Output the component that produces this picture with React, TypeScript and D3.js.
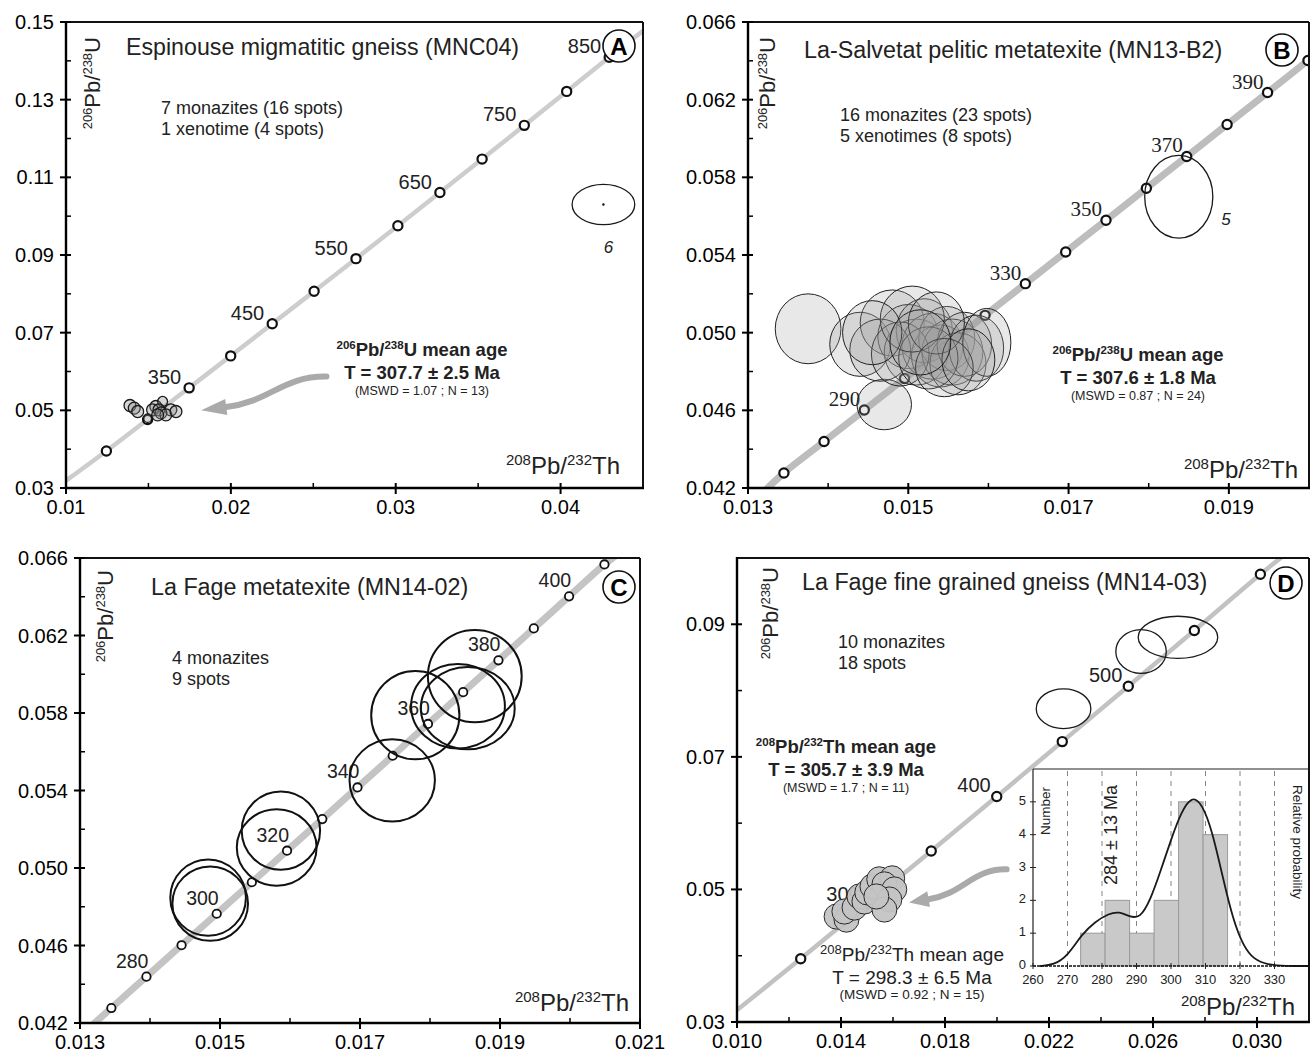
import React from 'react';
import * as d3 from 'd3';

const SANS = "'Liberation Sans', Arial, Helvetica, sans-serif";
const SERIF = "'Liberation Serif', 'Times New Roman', serif";

// ---- concordia ticks: age (Ma), 208Pb/232Th, 206Pb/238U ----
const agesA = [250, 300, 350, 400, 450, 500, 550, 600, 650, 700, 750, 800, 850];
const thA = [0.01245, 0.01495, 0.01747, 0.01999, 0.02251, 0.02505, 0.02759, 0.03013, 0.03268, 0.03524, 0.0378, 0.04037, 0.04295];
const uA = [0.03954, 0.04764, 0.05579, 0.06402, 0.0723, 0.08065, 0.08906, 0.09754, 0.10609, 0.1147, 0.12338, 0.13213, 0.14094];
const labelsA = [350, 450, 550, 650, 750, 850];
const endsA = [[0.01, 0.0319], [0.0452, 0.1484]];

const agesB = [270, 280, 290, 300, 310, 320, 330, 340, 350, 360, 370, 380, 390, 400];
const thB = [0.013448, 0.013949, 0.014451, 0.014953, 0.015455, 0.015958, 0.016461, 0.016964, 0.017467, 0.017971, 0.018474, 0.018978, 0.019483, 0.019987];
const uB = [0.042773, 0.044392, 0.046014, 0.047638, 0.049264, 0.050893, 0.052524, 0.054158, 0.055793, 0.057434, 0.059075, 0.060719, 0.062366, 0.06402];
const labelsB = [290, 330, 350, 370, 390];
const endsB = [[0.01322, 0.0419], [0.0203, 0.0651]];

const agesC = [270, 280, 290, 300, 310, 320, 330, 340, 350, 360, 370, 380, 390, 400, 410];
const thC = [...thB, 0.020492];
const uC = [...uB, 0.065667];
const labelsC = [280, 300, 320, 340, 360, 380, 400];
const endsC = [[0.01318, 0.0419], [0.0208, 0.0665]];

const agesD = [250, 300, 350, 400, 450, 500, 550, 600];
const thD = [0.01245, 0.01495, 0.01747, 0.01999, 0.02251, 0.02505, 0.02759, 0.03013];
const uD = [0.03954, 0.04764, 0.05579, 0.06402, 0.0723, 0.08065, 0.08906, 0.09754];
const labelsD = [300, 400, 500];
const endsD = [[0.01, 0.0318], [0.0311, 0.1006]];

// ---- axis ticks ----
const xTicksA = [0.01, 0.02, 0.03, 0.04];
const xMinorA = [0.015, 0.025, 0.035];
const yTicksA = [0.03, 0.05, 0.07, 0.09, 0.11, 0.13, 0.15];
const yMinorA = [0.04, 0.06, 0.08, 0.1, 0.12, 0.14];
const xTicksB = [0.013, 0.015, 0.017, 0.019];
const xMinorB = [0.014, 0.016, 0.018];
const yTicksB = [0.042, 0.046, 0.05, 0.054, 0.058, 0.062, 0.066];
const yMinorB = [0.044, 0.048, 0.052, 0.056, 0.06, 0.064];
const xTicksC = [0.013, 0.015, 0.017, 0.019, 0.021];
const xMinorC = [0.014, 0.016, 0.018, 0.02];
const xTicksD = [0.01, 0.014, 0.018, 0.022, 0.026, 0.03];
const xMinorD = [0.012, 0.016, 0.02, 0.024, 0.028];
const yTicksD = [0.03, 0.05, 0.07, 0.09];
const yMinorD = [0.04, 0.06, 0.08];

// ---- analyses: [208Pb/232Th, 206Pb/238U, half-axis x, half-axis y] ----
const spotsA = [
  [0.01388, 0.05124, 0.00036, 0.00155], [0.01414, 0.05057, 0.00036, 0.00155],
  [0.01435, 0.04969, 0.00036, 0.00155], [0.01545, 0.05098, 0.00036, 0.00155],
  [0.01586, 0.05227, 0.0003, 0.0013], [0.01525, 0.05013, 0.00036, 0.00155],
  [0.01564, 0.05013, 0.00036, 0.00155], [0.01636, 0.05013, 0.00036, 0.00155],
  [0.01576, 0.04935, 0.00036, 0.00155], [0.01606, 0.04884, 0.00036, 0.00155],
  [0.01667, 0.04969, 0.00036, 0.00155], [0.01556, 0.04884, 0.00036, 0.00155],
  [0.01495, 0.04799, 0.00024, 0.0011],
];
const openA = [[0.0426, 0.103, 0.0019, 0.0052]];

const spotsB = [
  [0.01375, 0.0502, 0.00041, 0.0018], [0.0147, 0.0463, 0.00034, 0.0013],
  [0.0144, 0.0494, 0.00038, 0.00165], [0.0148, 0.0505, 0.0004, 0.0017],
  [0.015, 0.0498, 0.00038, 0.00165], [0.0151, 0.049, 0.0004, 0.0017],
  [0.0152, 0.0501, 0.00035, 0.00165], [0.0153, 0.0493, 0.00038, 0.0017],
  [0.0154, 0.0488, 0.00036, 0.0016], [0.01548, 0.0497, 0.00035, 0.00165],
  [0.01555, 0.049, 0.00038, 0.0017], [0.01562, 0.0484, 0.00035, 0.0016],
  [0.0157, 0.0494, 0.00034, 0.00165], [0.01585, 0.0492, 0.00034, 0.0017],
  [0.01598, 0.0495, 0.0003, 0.00175], [0.01465, 0.0491, 0.00038, 0.0016],
  [0.0149, 0.0489, 0.00036, 0.00165], [0.01525, 0.0487, 0.00037, 0.0016],
  [0.01505, 0.0507, 0.0004, 0.0017], [0.01535, 0.0505, 0.00035, 0.0016],
  [0.01455, 0.05, 0.00037, 0.00165], [0.01545, 0.0482, 0.00036, 0.0015],
  [0.01575, 0.0486, 0.00033, 0.0016], [0.01515, 0.0495, 0.00038, 0.00168],
];
const openB = [[0.018375, 0.057, 0.000425, 0.00213]];

const openC = [
  [0.01864, 0.0599, 0.00067, 0.00238], [0.0184, 0.05835, 0.00067, 0.00218],
  [0.01854, 0.05825, 0.00067, 0.00212], [0.01779, 0.05789, 0.00063, 0.00228],
  [0.01746, 0.05452, 0.00061, 0.00212], [0.01587, 0.05193, 0.00056, 0.00202],
  [0.01581, 0.05106, 0.00057, 0.00197], [0.01483, 0.04847, 0.00054, 0.00197],
  [0.01486, 0.04816, 0.00054, 0.00192],
];

const openD = [
  [0.02696, 0.08803, 0.00153, 0.00318], [0.02554, 0.0859, 0.00097, 0.0033],
  [0.02256, 0.07727, 0.00105, 0.003],
];
const spotsD = [
  [0.01383, 0.04591, 0.00048, 0.0019], [0.01421, 0.04545, 0.00048, 0.0019],
  [0.01413, 0.04667, 0.00048, 0.0019], [0.01452, 0.04727, 0.00048, 0.0019],
  [0.01471, 0.04894, 0.00048, 0.0019], [0.0149, 0.04818, 0.00048, 0.0019],
  [0.01501, 0.04955, 0.00048, 0.0019], [0.01521, 0.05045, 0.00048, 0.0019],
  [0.01547, 0.05152, 0.00048, 0.0019], [0.01597, 0.05167, 0.00048, 0.0019],
  [0.01567, 0.05076, 0.00048, 0.0019], [0.01605, 0.05, 0.00048, 0.0019],
  [0.01586, 0.04848, 0.00048, 0.0019], [0.01567, 0.04697, 0.00048, 0.0019],
  [0.01536, 0.04894, 0.00048, 0.0019],
];

// ---- inset histogram (panel D) ----
const binEdges = [273.8, 280.9, 288.0, 295.1, 302.2, 309.3, 316.4];
const binCounts = [1, 2, 1, 2, 5, 4];
const probAges = [262, 266, 270, 274, 278, 282, 285, 288, 291, 294, 297, 300, 303, 306, 309, 312, 315, 318, 321, 324, 328, 333, 340];
const probVals = [0, 0.03, 0.3, 0.95, 1.35, 1.6, 1.66, 1.5, 1.45, 2.0, 2.9, 3.85, 4.7, 5.18, 4.95, 4.1, 2.7, 1.4, 0.6, 0.2, 0.04, 0, 0];
const histXTicks = [260, 270, 280, 290, 300, 310, 320, 330];
const histYTicks = [0, 1, 2, 3, 4, 5];

type Part = [string, boolean];
const PBU: Part[] = [['206', true], ['Pb', false], ['/', false], ['238', true], ['U', false]];
const PBTH: Part[] = [['208', true], ['Pb', false], ['/', false], ['232', true], ['Th', false]];

function rich(parts: Part[], size: number, supSize: number) {
  let up = false;
  return parts.map(([s, isSup], i) => {
    let dy: number | undefined;
    if (isSup && !up) { dy = -size * 0.38; up = true; }
    else if (!isSup && up) { dy = size * 0.38; up = false; }
    return <tspan key={i} dy={dy} fontSize={isSup ? supSize : size}>{s}</tspan>;
  });
}

function Panel({ cfg }: { cfg: any }) {
  const b = cfg.box;
  const x = d3.scaleLinear().domain(cfg.xDom).range([b.l, b.r]);
  const y = d3.scaleLinear().domain(cfg.yDom).range([b.b, b.t]);
  const pts = [cfg.ends[0], ...cfg.th.map((t: number, i: number) => [t, cfg.u[i]]), cfg.ends[1]];
  const line = d3.line<number[]>().x(d => x(d[0])).y(d => y(d[1])).curve(d3.curveCatmullRom);
  const ell = (e: number[], i: number, style: any) => (
    <ellipse key={i} cx={x(e[0])} cy={y(e[1])}
      rx={Math.abs(x(e[0] + e[2]) - x(e[0]))} ry={Math.abs(y(e[1] + e[3]) - y(e[1]))} {...style} />
  );
  const clip = 'clip' + cfg.id;
  return (
    <g>
      <defs>
        <clipPath id={clip}><rect x={b.l} y={b.t} width={b.r - b.l} height={b.b - b.t} /></clipPath>
      </defs>
      <g clipPath={`url(#${clip})`}>
        <path d={line(pts) || ''} fill="none" stroke={cfg.lineColor} strokeWidth={cfg.lineW} />
        {cfg.th.map((t: number, i: number) => (
          <circle key={i} cx={x(t)} cy={y(cfg.u[i])} r={cfg.markR} fill="#fff" stroke="#111" strokeWidth={cfg.markW} />
        ))}
      </g>
      {cfg.ages.map((a: number, i: number) => cfg.labels.includes(a) ? (
        <text key={i} x={x(cfg.th[i]) + cfg.lab.dx} y={y(cfg.u[i]) + cfg.lab.dy} textAnchor="end"
          fontFamily={cfg.lab.font} fontSize={cfg.lab.size} fill="#222">{a}</text>
      ) : null)}
      <g clipPath={`url(#${clip})`}>
        {cfg.spots.map((e: number[], i: number) => ell(e, i, cfg.spotStyle))}
        {cfg.open.map((e: number[], i: number) => ell(e, i, cfg.openStyle))}
      </g>
      {cfg.extra ? cfg.extra(x, y) : null}
      {/* frame and axes */}
      <line x1={b.l} x2={b.r} y1={b.t} y2={b.t} stroke="#111" strokeWidth={2} />
      <line x1={b.r} x2={b.r} y1={b.t} y2={b.b} stroke="#111" strokeWidth={2} />
      <line x1={b.l} x2={b.r + 1} y1={b.b} y2={b.b} stroke="#000" strokeWidth={2.4} />
      <line x1={b.l} x2={b.l} y1={b.t - 1} y2={b.b} stroke="#000" strokeWidth={2.4} />
      {cfg.xTicks.map((v: number, i: number) => (
        <g key={'xt' + i}>
          <line x1={x(v)} x2={x(v)} y1={b.b - 5} y2={b.b + 6} stroke="#000" strokeWidth={2} />
          <text x={x(v)} y={b.b + 26} textAnchor="middle" fontFamily={SANS} fontSize={20}>{cfg.xFmt(v)}</text>
        </g>
      ))}
      {cfg.xMinor.map((v: number, i: number) => (
        <line key={'xm' + i} x1={x(v)} x2={x(v)} y1={b.b - 5} y2={b.b} stroke="#000" strokeWidth={1.5} />
      ))}
      {cfg.yTicks.map((v: number, i: number) => (
        <g key={'yt' + i}>
          <line x1={b.l - 6} x2={b.l + 5} y1={y(v)} y2={y(v)} stroke="#000" strokeWidth={2} />
          <text x={b.l - 12} y={y(v) + 7} textAnchor="end" fontFamily={SANS} fontSize={20}>{cfg.yFmt(v)}</text>
        </g>
      ))}
      {cfg.yMinor.map((v: number, i: number) => (
        <line key={'ym' + i} x1={b.l} x2={b.l + 5} y1={y(v)} y2={y(v)} stroke="#000" strokeWidth={1.5} />
      ))}
      {/* axis titles */}
      <text transform={`translate(${cfg.yLab[0]},${cfg.yLab[1]}) rotate(-90)`} textAnchor="end"
        fontFamily={SANS} fill="#222">{rich(PBU, 22, 13)}</text>
      <text x={cfg.xLab[0]} y={cfg.xLab[1]} textAnchor="end" fontFamily={SANS} fill="#222">{rich(PBTH, 24, 15)}</text>
      <text x={cfg.title[0]} y={cfg.title[1]} fontFamily={SANS} fontSize={cfg.titleSize} fill="#222">{cfg.titleText}</text>
      {cfg.stats.map((s: string, i: number) => (
        <text key={'st' + i} x={cfg.statPos[0]} y={cfg.statPos[1] + i * 21} fontFamily={SANS} fontSize={18} fill="#222">{s}</text>
      ))}
      <circle cx={cfg.letter[0]} cy={cfg.letter[1]} r={16} fill="#fff" stroke="#111" strokeWidth={1.6} />
      <text x={cfg.letter[0]} y={cfg.letter[1] + 8.5} textAnchor="middle" fontFamily={SANS} fontWeight="bold" fontSize={24}>{cfg.id}</text>
    </g>
  );
}

function MeanAge({ cx, y0, ratio, age, mswd, bold }: any) {
  const w = bold ? 'bold' : 'normal';
  return (
    <g fontFamily={SANS} fill="#222" textAnchor="middle">
      <text x={cx} y={y0} fontWeight={w}>{rich(ratio, bold ? 18.5 : 19, bold ? 11.5 : 13)}<tspan fontSize={bold ? 18.5 : 19}> mean age</tspan></text>
      <text x={cx} y={y0 + 23} fontWeight={w} fontSize={bold ? 18.5 : 19}>{age}</text>
      <text x={cx} y={y0 + (bold ? 39 : 38)} fontSize={bold ? 12.5 : 13.5}>{mswd}</text>
    </g>
  );
}

function Arrow({ tail, tip }: { tail: number[]; tip: number[] }) {
  const w = tail[0] - tip[0];
  const h = tip[1] - tail[1];
  const e = [tip[0] + 0.2 * w, tip[1] - 0.1 * h];
  const body = `M${tail[0]},${tail[1]} C${tail[0] - 0.35 * w},${tail[1] - 0.02 * h} ${tail[0] - 0.45 * w},${tip[1] - 0.25 * h} ${e[0]},${e[1]}`;
  const dx = tip[0] - e[0], dy = tip[1] - e[1];
  const L = Math.hypot(dx, dy);
  const nx = -dy / L, ny = dx / L;
  const hw = 8;
  const head = `M${tip[0]},${tip[1]} L${e[0] + nx * hw},${e[1] + ny * hw} L${e[0] - nx * hw},${e[1] - ny * hw} Z`;
  return (
    <g>
      <path d={body} fill="none" stroke="#aaa" strokeWidth={6} strokeLinecap="round" />
      <path d={head} fill="#aaa" />
    </g>
  );
}

function Inset() {
  const l = 1033, r = 1309, t = 769, b = 966;
  const x = d3.scaleLinear().domain([260, 340]).range([l, r]);
  const y = d3.scaleLinear().domain([0, 6]).range([b, t]);
  const curve = d3.line<number>().x((d, i) => x(probAges[i])).y(d => y(d)).curve(d3.curveBasis);
  return (
    <g>
      <rect x={l} y={t} width={r - l} height={b - t} fill="#fff" />
      {histXTicks.slice(1).map((v, i) => (
        <line key={'g' + i} x1={x(v)} x2={x(v)} y1={t + 2} y2={b} stroke="#777" strokeWidth={0.9} strokeDasharray="5,5" />
      ))}
      {binCounts.map((c, i) => (
        <rect key={'bar' + i} x={x(binEdges[i])} y={y(c)} width={x(binEdges[i + 1]) - x(binEdges[i])}
          height={y(0) - y(c)} fill="#c9c9c9" stroke="#9a9a9a" strokeWidth={1} />
      ))}
      <path d={curve(probVals) || ''} fill="none" stroke="#1a1a1a" strokeWidth={1.8} />
      <line x1={l} x2={r} y1={t} y2={t} stroke="#222" strokeWidth={1.2} />
      <line x1={l} x2={l} y1={t} y2={b} stroke="#222" strokeWidth={1.2} />
      <line x1={l} x2={r} y1={b} y2={b} stroke="#111" strokeWidth={1.6} strokeDasharray="3,1" />
      {histYTicks.map(v => (
        <g key={'hy' + v}>
          <line x1={l - 3} x2={l + 3} y1={y(v)} y2={y(v)} stroke="#222" strokeWidth={1} />
          <text x={l - 7} y={y(v) + 3} textAnchor="end" fontFamily={SANS} fontSize={13} fill="#222">{v}</text>
        </g>
      ))}
      {histXTicks.map(v => (
        <g key={'hx' + v}>
          <line x1={x(v)} x2={x(v)} y1={b - 3} y2={b + 3} stroke="#222" strokeWidth={1} />
          <text x={x(v)} y={b + 18} textAnchor="middle" fontFamily={SANS} fontSize={13} fill="#222">{v}</text>
        </g>
      ))}
      <text transform={`translate(${l + 17},${t + 42}) rotate(-90)`} textAnchor="middle" fontFamily={SANS} fontSize={13.5} fill="#222">Number</text>
      <text transform={`translate(${r - 16},${t + 73}) rotate(90)`} textAnchor="middle" fontFamily={SANS} fontSize={13.5} fill="#222">Relative probability</text>
      <text transform={`translate(${l + 84},${t + 66}) rotate(-90)`} textAnchor="middle" fontFamily={SANS} fontSize={18} fill="#222">284 ± 13 Ma</text>
    </g>
  );
}

const f2 = d3.format('.2f');
const f3 = d3.format('.3f');
const spotGrey = { fill: '#8a8a8a', fillOpacity: 0.35, stroke: '#1a1a1a', strokeWidth: 1.3 };
const openThin = { fill: 'none', stroke: '#1a1a1a', strokeWidth: 1.3 };

const panels = [
  {
    id: 'A', box: { l: 66, r: 643, t: 22, b: 488 }, xDom: [0.01, 0.045], yDom: [0.03, 0.15],
    xTicks: xTicksA, xMinor: xMinorA, yTicks: yTicksA, yMinor: yMinorA, xFmt: f2, yFmt: f2,
    ages: agesA, th: thA, u: uA, labels: labelsA, ends: endsA, lineColor: '#cdcdcd', lineW: 4.5, markR: 4.6, markW: 2.2,
    lab: { dx: -8, dy: -4, font: SANS, size: 20 },
    spots: spotsA, spotStyle: spotGrey, open: openA, openStyle: openThin,
    yLab: [100, 37], xLab: [620, 474], title: [126, 55], titleSize: 23.2, titleText: 'Espinouse migmatitic gneiss (MNC04)',
    stats: ['7 monazites (16 spots)', '1 xenotime (4 spots)'], statPos: [161, 114], letter: [619, 46],
    extra: (x: any, y: any) => (
      <g>
        <circle cx={x(0.0426)} cy={y(0.103)} r={1.2} fill="#111" />
        <text x={x(0.0429)} y={y(0.103) + 48} textAnchor="middle" fontFamily={SANS} fontStyle="italic" fontSize={17} fill="#222">6</text>
        <Arrow tail={[x(0.0258), y(0.0587)]} tip={[x(0.0182), y(0.05)]} />
        <MeanAge cx={422} y0={356} ratio={PBU} age="T = 307.7 ± 2.5 Ma" mswd="(MSWD = 1.07 ; N = 13)" bold />
      </g>
    ),
  },
  {
    id: 'B', box: { l: 748, r: 1309, t: 22, b: 488 }, xDom: [0.013, 0.020], yDom: [0.042, 0.066],
    xTicks: xTicksB, xMinor: xMinorB, yTicks: yTicksB, yMinor: yMinorB, xFmt: f3, yFmt: f3,
    ages: agesB, th: thB, u: uB, labels: labelsB, ends: endsB, lineColor: '#bdbdbd', lineW: 7, markR: 4.6, markW: 2.2,
    lab: { dx: -4, dy: -4, font: SERIF, size: 21 },
    spots: spotsB, spotStyle: { fill: '#a0a0a0', fillOpacity: 0.24, stroke: '#222', strokeWidth: 1 },
    open: openB, openStyle: openThin,
    yLab: [775, 37], xLab: [1298, 478], title: [804, 58], titleSize: 23.3, titleText: 'La-Salvetat pelitic metatexite (MN13-B2)',
    stats: ['16 monazites (23 spots)', '5 xenotimes (8 spots)'], statPos: [840, 121], letter: [1282, 50],
    extra: () => (
      <g>
        <text x={1226} y={225} textAnchor="middle" fontFamily={SANS} fontStyle="italic" fontSize={17} fill="#222">5</text>
        <MeanAge cx={1138} y0={361} ratio={PBU} age="T = 307.6 ± 1.8 Ma" mswd="(MSWD = 0.87 ; N = 24)" bold />
      </g>
    ),
  },
  {
    id: 'C', box: { l: 80, r: 640, t: 558, b: 1023 }, xDom: [0.013, 0.021], yDom: [0.042, 0.066],
    xTicks: xTicksC, xMinor: xMinorC, yTicks: yTicksB, yMinor: yMinorB, xFmt: f3, yFmt: f3,
    ages: agesC, th: thC, u: uC, labels: labelsC, ends: endsC, lineColor: '#c4c4c4', lineW: 7, markR: 4.2, markW: 1.8,
    lab: { dx: 2, dy: -9, font: SANS, size: 19.5 },
    spots: [], spotStyle: {}, open: openC, openStyle: { fill: 'none', stroke: '#111', strokeWidth: 2 },
    yLab: [113, 570], xLab: [629, 1011], title: [151, 595], titleSize: 23.3, titleText: 'La Fage metatexite (MN14-02)',
    stats: ['4 monazites', '9 spots'], statPos: [172, 664], letter: [619, 587],
  },
  {
    id: 'D', box: { l: 737, r: 1309, t: 558, b: 1022 }, xDom: [0.01, 0.032], yDom: [0.03, 0.1],
    xTicks: xTicksD, xMinor: xMinorD, yTicks: yTicksD, yMinor: yMinorD, xFmt: f3, yFmt: f2,
    ages: agesD, th: thD, u: uD, labels: labelsD, ends: endsD, lineColor: '#c2c2c2', lineW: 4.5, markR: 4.6, markW: 2.2,
    lab: { dx: -6, dy: -4, font: SANS, size: 20 },
    spots: spotsD, spotStyle: { fill: '#c4c4c4', fillOpacity: 0.95, stroke: '#2a2a2a', strokeWidth: 1 },
    open: openD, openStyle: openThin,
    yLab: [778, 567], xLab: [1295, 1015], title: [802, 590], titleSize: 23.3, titleText: 'La Fage fine grained gneiss (MN14-03)',
    stats: ['10 monazites', '18 spots'], statPos: [838, 648], letter: [1286, 583],
    extra: (x: any, y: any) => (
      <g>
        <MeanAge cx={846} y0={753} ratio={PBTH} age="T = 305.7 ± 3.9 Ma" mswd="(MSWD = 1.7 ; N = 11)" bold />
        <Arrow tail={[x(0.02037), y(0.05303)]} tip={[x(0.01662), y(0.04803)]} />
        <Inset />
        <MeanAge cx={912} y0={961} ratio={PBTH} age="T = 298.3 ± 6.5 Ma" mswd="(MSWD = 0.92 ; N = 15)" />
      </g>
    ),
  },
];

export default function App() {
  return (
    <svg width={1315} height={1059} style={{ position: 'absolute', left: 0, top: 0, background: '#fff' }}>
      {panels.map(p => <Panel key={p.id} cfg={p} />)}
    </svg>
  );
}
